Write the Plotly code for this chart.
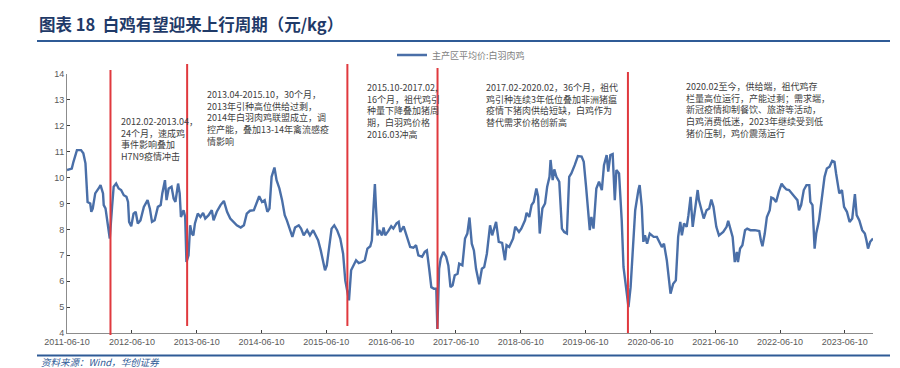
import plotly.graph_objects as go

# ---------------- data ----------------
dates = [
"2011-06-10","2011-07-07","2011-07-16","2011-08-05","2011-08-28","2011-09-10","2011-09-22","2011-10-04",
"2011-10-19","2011-10-25","2011-11-02","2011-11-16","2011-12-05","2011-12-16","2011-12-30","2012-01-03",
"2012-01-13","2012-01-22","2012-02-06","2012-02-19","2012-02-28","2012-03-13","2012-03-27","2012-04-10",
"2012-04-25","2012-05-10","2012-05-19","2012-05-25","2012-06-06","2012-06-19","2012-07-01","2012-07-13",
"2012-07-28","2012-08-16","2012-09-06","2012-09-19","2012-10-01","2012-10-16","2012-11-03","2012-11-19",
"2012-11-28","2012-12-13","2012-12-22","2013-01-03","2013-01-19","2013-01-31","2013-02-10","2013-02-25",
"2013-03-06","2013-03-13","2013-03-28","2013-04-06","2013-04-13","2013-04-25","2013-05-04","2013-05-13",
"2013-05-22","2013-05-31","2013-06-16","2013-07-01","2013-07-16","2013-07-28","2013-08-16","2013-09-03",
"2013-09-13","2013-10-01","2013-10-22","2013-11-10","2013-11-28","2013-12-16","2014-01-03","2014-01-22",
"2014-02-13","2014-03-03","2014-03-19","2014-04-06","2014-04-28","2014-05-13","2014-05-28","2014-06-13",
"2014-06-28","2014-07-13","2014-07-25","2014-08-06","2014-08-22","2014-09-03","2014-09-19","2014-10-04",
"2014-10-19","2014-10-31","2014-11-16","2014-12-01","2014-12-16","2015-01-06","2015-01-19","2015-02-03",
"2015-02-22","2015-03-10","2015-03-28","2015-04-13","2015-04-25","2015-05-10","2015-05-25","2015-06-03",
"2015-06-13","2015-06-28","2015-07-10","2015-07-25","2015-08-10","2015-08-28","2015-09-13","2015-09-25",
"2015-10-07","2015-10-16","2015-10-28","2015-11-10","2015-11-25","2015-12-10","2015-12-28","2016-01-13",
"2016-01-28","2016-02-13","2016-02-22","2016-03-01","2016-03-10","2016-03-16","2016-03-25","2016-04-03",
"2016-04-19","2016-04-28","2016-05-07","2016-05-25","2016-06-10","2016-06-22","2016-07-10","2016-07-22",
"2016-07-31","2016-08-19","2016-09-06","2016-09-25","2016-10-13","2016-10-28","2016-11-10","2016-12-01",
"2016-12-16","2016-12-28","2017-01-10","2017-01-22","2017-02-06","2017-02-19","2017-02-25","2017-03-07",
"2017-03-16","2017-03-31","2017-04-16","2017-04-28","2017-05-10","2017-05-22","2017-06-03","2017-06-19",
"2017-06-28","2017-07-16","2017-07-31","2017-08-13","2017-08-25","2017-09-07","2017-09-19","2017-10-01",
"2017-10-19","2017-11-03","2017-11-16","2017-12-01","2017-12-19","2017-12-31","2018-01-22","2018-02-06",
"2018-02-25","2018-03-13","2018-03-22","2018-04-06","2018-04-28","2018-05-10","2018-05-31","2018-06-13",
"2018-07-04","2018-07-13","2018-07-28","2018-08-10","2018-08-22","2018-09-06","2018-09-16","2018-09-25",
"2018-10-10","2018-10-25","2018-11-06","2018-11-19","2018-11-25","2018-12-07","2018-12-16","2018-12-28",
"2019-01-13","2019-01-28","2019-02-10","2019-02-25","2019-03-10","2019-03-22","2019-04-10","2019-04-28",
"2019-05-19","2019-05-31","2019-06-13","2019-06-25","2019-07-04","2019-07-13","2019-07-25","2019-08-10",
"2019-08-25","2019-09-10","2019-09-22","2019-10-07","2019-10-16","2019-10-28","2019-11-10","2019-11-22",
"2019-12-01","2019-12-16","2019-12-31","2020-01-10","2020-01-25","2020-02-07","2020-02-19","2020-03-04",
"2020-03-16","2020-04-03","2020-04-10","2020-04-22","2020-05-01","2020-05-10","2020-05-22","2020-06-06",
"2020-06-28","2020-07-16","2020-07-28","2020-08-13","2020-08-25","2020-09-10","2020-10-01","2020-10-16",
"2020-10-31","2020-11-13","2020-11-25","2020-12-04","2020-12-16","2020-12-31","2021-01-10","2021-01-22",
"2021-02-03","2021-02-16","2021-03-03","2021-03-10","2021-03-25","2021-04-06","2021-04-22","2021-05-07",
"2021-05-19","2021-05-31","2021-06-16","2021-07-01","2021-07-25","2021-08-13","2021-08-22","2021-09-03",
"2021-09-16","2021-09-28","2021-10-10","2021-10-16","2021-10-28","2021-11-10","2021-11-25","2021-12-07",
"2021-12-25","2022-01-19","2022-02-13","2022-02-22","2022-03-03","2022-03-16","2022-03-28","2022-04-13",
"2022-04-22","2022-05-04","2022-05-19","2022-06-03","2022-06-19","2022-07-01","2022-07-16","2022-07-31",
"2022-08-13","2022-08-31","2022-09-16","2022-09-25","2022-10-07","2022-10-22","2022-11-06","2022-11-22",
"2022-11-28","2022-12-10","2022-12-22","2022-12-31","2023-01-16","2023-01-25","2023-02-03","2023-02-16",
"2023-03-01","2023-03-16","2023-03-31","2023-04-13","2023-04-22","2023-05-01","2023-05-10","2023-05-25",
"2023-06-06","2023-06-22","2023-07-07","2023-07-22","2023-07-28","2023-08-06","2023-08-16","2023-08-31",
"2023-09-16","2023-10-01","2023-10-10","2023-10-19","2023-10-31","2023-11-16",
]

prices = [
10.29,10.35,10.60,11.06,11.06,10.94,10.55,9.06,
9.00,8.68,8.80,9.39,9.58,9.71,9.39,8.94,
8.81,8.35,7.65,8.87,9.65,9.77,9.58,9.52,
9.32,9.26,9.06,8.29,8.12,8.61,8.68,8.23,
8.35,8.87,9.13,8.80,8.29,8.35,8.87,8.94,
9.39,9.90,9.13,9.58,9.65,9.19,9.06,9.77,
9.39,8.48,8.74,8.48,6.74,7.00,8.16,7.84,
7.77,8.23,8.61,8.48,8.64,8.42,8.55,8.74,
8.35,8.68,8.94,9.10,8.68,8.42,8.29,8.16,
8.07,8.16,8.61,8.72,8.74,9.00,9.28,9.06,
9.13,8.68,8.80,10.03,10.39,9.90,9.58,9.13,
8.55,8.35,8.03,7.71,8.07,8.16,8.03,7.77,
7.97,7.77,7.97,7.71,7.58,7.19,6.74,6.42,
6.61,7.32,8.03,8.16,7.97,7.65,7.06,6.03,
5.65,5.26,6.42,6.61,6.81,6.70,6.74,6.81,
7.26,7.35,7.58,8.68,9.75,8.87,7.77,7.97,
7.77,8.07,7.77,7.94,8.12,8.03,8.23,8.29,
7.90,8.12,7.71,7.32,7.29,7.39,7.00,6.94,
7.13,7.19,6.48,5.77,5.71,5.71,4.16,6.48,
6.87,7.13,6.94,6.61,5.77,5.84,6.23,6.29,
6.68,6.61,7.65,7.84,8.46,7.45,7.19,6.48,
5.88,6.48,6.55,7.06,8.16,7.77,8.29,7.52,
7.48,6.81,7.39,7.32,7.65,8.10,7.90,8.03,
8.35,8.64,8.48,8.94,9.06,9.58,9.26,7.84,
8.81,9.00,9.65,10.03,10.68,9.90,10.32,10.03,
9.84,8.03,7.90,7.84,10.03,10.16,10.48,10.83,
10.81,10.61,9.65,8.61,7.97,8.48,8.03,9.58,
9.84,9.52,10.48,10.87,10.23,10.87,10.91,9.13,
10.29,10.16,8.35,6.55,5.77,5.00,5.77,7.58,
8.74,9.52,9.71,8.87,7.52,7.77,7.45,7.84,
7.71,7.71,7.52,7.32,7.45,6.81,5.52,5.90,
6.03,7.71,8.29,7.77,8.23,8.10,8.55,9.26,
8.10,8.74,9.52,9.13,8.74,8.42,8.74,8.81,
9.15,8.87,8.10,7.77,7.90,8.10,8.33,8.03,
7.71,6.74,7.13,6.74,7.26,7.39,7.97,8.03,
7.97,7.97,7.94,7.58,7.35,7.84,8.48,8.74,
9.23,9.19,9.06,9.45,9.77,9.65,9.54,9.52,
9.39,9.26,9.13,8.74,8.94,9.52,9.71,9.71,
9.06,8.94,7.26,7.84,8.35,8.87,9.52,10.03,
10.35,10.42,10.65,10.61,10.16,9.77,9.39,9.52,
8.87,8.68,8.29,8.42,8.87,9.36,8.55,8.35,
7.97,7.84,7.58,7.26,7.52,7.65,
]

series_name = "主产区平均价:白羽肉鸡"
x_tick_vals = ["2011-06-10","2012-06-10","2013-06-10","2014-06-10","2015-06-10","2016-06-10",
               "2017-06-10","2018-06-10","2019-06-10","2020-06-10","2021-06-10","2022-06-10","2023-06-10"]
y_tick_vals = [4,5,6,7,8,9,10,11,12,13,14]

cycle_dates = ["2012-02-10","2013-04-17","2015-10-07","2017-02-26","2020-02-04"]
cycle_tops = [1.015, 1.039, 1.039, 1.023, 1.008]
cycle_bottoms = [-0.008, 0.027, 0.027, 0.015, 0.0]

notes = [
    "2012.02-2013.04，<br>24个月，速成鸡<br>事件影响叠加<br>H7N9疫情冲击",
    "2013.04-2015.10，30个月，<br>2013年引种高位供给过剩，<br>2014年白羽肉鸡联盟成立，调<br>控产能，叠加13-14年禽流感疫<br>情影响",
    "2015.10-2017.02,<br>16个月，祖代鸡引<br>种量下降叠加猪周<br>期，白羽鸡价格<br>2016.03冲高",
    "2017.02-2020.02，36个月，祖代<br>鸡引种连续3年低位叠加非洲猪瘟<br>疫情下猪肉供给短缺，白鸡作为<br>替代需求价格创新高",
    "2020.02至今，供给端，祖代鸡存<br>栏量高位运行，产能过剩；需求端，<br>新冠疫情抑制餐饮、旅游等活动，<br>白鸡消费低迷，2023年继续受到低<br>猪价压制，鸡价震荡运行",
]
note_pos = [(120, 114), (206, 87), (366, 80), (485, 80), (685, 79)]  # page px (left, top)

title_text = "图表 18  白鸡有望迎来上行周期（元/kg）"
source_text = "资料来源：Wind，华创证券"

# ---------------- layout geometry ----------------
W, H = 900, 368
L, R, T, B = 67, 27, 74, 35
PW, PH = W - L - R, H - T - B

def px(xp):
    return (xp - L) / PW

def py(yp):
    return (H - B - yp) / PH

CJK = "Noto Sans CJK SC"
fig = go.Figure()
fig.add_trace(go.Scatter(
    x=dates, y=prices, mode="lines", name=series_name,
    line=dict(color="#4A6FA8", width=2.4),
))

shapes = []
for d, t, b in zip(cycle_dates, cycle_tops, cycle_bottoms):
    shapes.append(dict(type="line", xref="x", yref="paper", x0=d, x1=d, y0=b, y1=t,
                       line=dict(color="#E0393E", width=2), layer="above"))
# header / footer rules
shapes.append(dict(type="line", xref="paper", yref="paper", x0=px(37), x1=px(890),
                   y0=py(41), y1=py(41), line=dict(color="#2F5B96", width=2)))
shapes.append(dict(type="line", xref="paper", yref="paper", x0=px(37), x1=px(890),
                   y0=py(355.5), y1=py(355.5), line=dict(color="#2F5B96", width=2)))

annotations = [
    dict(text="<b>" + title_text + "</b>", xref="paper", yref="paper", x=px(37), y=py(24),
         xanchor="left", yanchor="middle", showarrow=False,
         font=dict(family=CJK, size=16.5, color="#1F3A68")),
    dict(text="<i>" + source_text + "</i>", xref="paper", yref="paper", x=px(40), y=py(361.5),
         xanchor="left", yanchor="middle", showarrow=False, borderpad=0,
         font=dict(family=CJK, size=9.5, color="#2F5B96")),
]
for txt, (lx, ty) in zip(notes, note_pos):
    annotations.append(dict(text=txt, xref="paper", yref="paper", x=px(lx), y=py(ty),
                            xanchor="left", yanchor="top", align="left", showarrow=False,
                            borderpad=0,
                            font=dict(family=CJK, size=9, color="#404040")))

fig.update_layout(
    width=W, height=H,
    margin=dict(l=L, r=R, t=T, b=B),
    paper_bgcolor="white", plot_bgcolor="white",
    showlegend=True,
    legend=dict(x=px(392), y=py(55), xanchor="left", yanchor="middle", orientation="h",
                font=dict(family=CJK, size=9, color="#7F7F7F"), bgcolor="rgba(0,0,0,0)"),
    shapes=shapes, annotations=annotations,
    xaxis=dict(type="date", range=["2011-06-10", "2023-11-16"], tickvals=x_tick_vals,
               tickformat="%Y-%m-%d", showgrid=False, zeroline=False,
               showline=True, linecolor="#8C8C8C", linewidth=1,
               ticks="inside", ticklen=3, tickcolor="#404040",
               tickfont=dict(family="Liberation Sans, Arial", size=9, color="#595959")),
    yaxis=dict(range=[4, 14], tickvals=y_tick_vals, showgrid=False, zeroline=False,
               showline=True, linecolor="#8C8C8C", linewidth=1,
               ticks="inside", ticklen=3, tickcolor="#404040",
               tickfont=dict(family="Liberation Sans, Arial", size=9, color="#595959")),
)

fig.write_html("out.html", config={"displayModeBar": False},
               post_script="document.body.style.margin='0';")
